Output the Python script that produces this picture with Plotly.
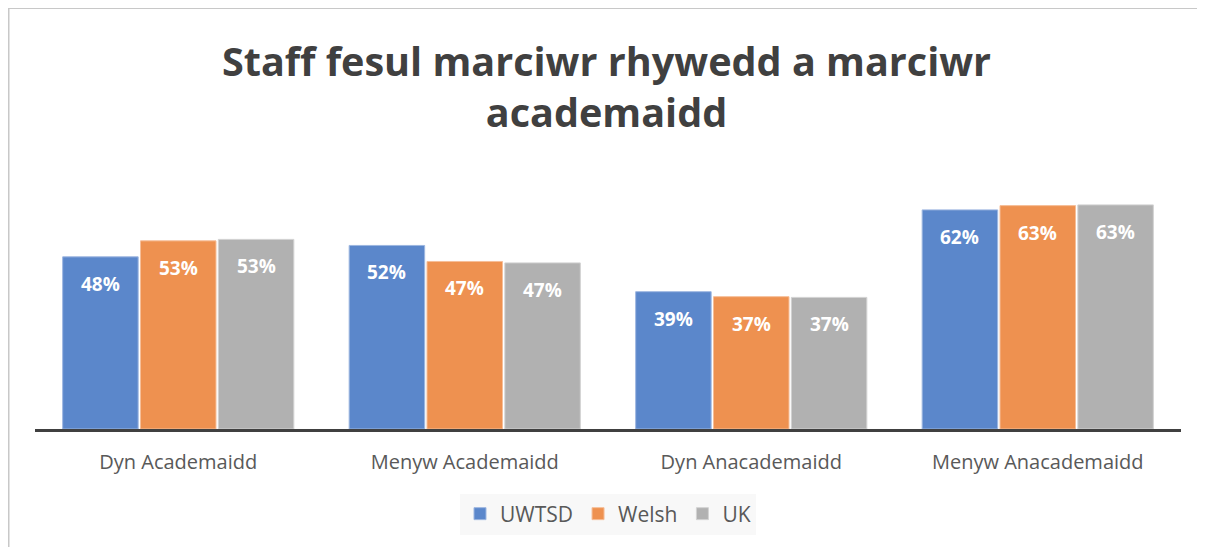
import plotly.graph_objects as go

categories = ["Dyn Academaidd", "Menyw Academaidd", "Dyn Anacademaidd", "Menyw Anacademaidd"]
series_names = ["UWTSD", "Welsh", "UK"]
uwtsd = [48.4, 51.6, 38.6, 61.6]
welsh = [52.9, 47.1, 37.2, 62.8]
uk = [53.3, 46.7, 37.0, 63.0]
colors = ["#5B87CB", "#EE9150", "#B1B1B1"]
line_colors = ["#9DB6E0", "#F6BE98", "#D2D2D2"]

series_values = [uwtsd, welsh, uk]

# page has an 8px body margin; figure sized so it fills the window
OFF = 8
W, H = 1205 - OFF, 547 - OFF
L, T = 35 - OFF, 180 - OFF
R = W - (1181 - OFF)
B = H - (429 - OFF)
pw, ph = W - L - R, H - T - B

fig = go.Figure()
for name, vals, c, lc in zip(series_names, series_values, colors, line_colors):
    fig.add_trace(go.Bar(
        x=categories, y=vals, name=name,
        marker=dict(color=c, line=dict(color=lc, width=1)),
        hoverinfo="x+y+name",
    ))

annotations = []
slot = pw / len(categories) * (1 - 0.185) / 3
for i, vals in enumerate(series_values):
    for cat, v in zip(categories, vals):
        annotations.append(dict(
            x=cat, y=v, xref="x", yref="y",
            text=f"<b>{round(v)}%</b>", showarrow=False,
            xshift=(i - 1) * slot, yshift=-27,
            font=dict(family="Open Sans, sans-serif", size=19, color="white"),
        ))

fig.update_layout(
    width=W, height=H,
    margin=dict(l=L, r=R, t=T, b=B, autoexpand=False),
    paper_bgcolor="white", plot_bgcolor="white",
    barmode="group", bargap=0.185, bargroupgap=0.03,
    title=dict(
        text="<b>Staff fesul marciwr rhywedd a marciwr<br>academaidd</b>",
        x=0.5, xanchor="center", y=1 - (76 - OFF) / H, yanchor="middle",
        font=dict(family="Open Sans, sans-serif", size=39.6, color="#404040"),
    ),
    xaxis=dict(
        showline=True, linecolor="#404040", linewidth=2.5,
        showgrid=False, ticks="", ticklabelstandoff=13,
        tickfont=dict(family="Open Sans, sans-serif", size=20, color="#595959"),
    ),
    yaxis=dict(range=[0, 70], visible=False, showgrid=False, zeroline=False),
    legend=dict(
        orientation="h", x=0.5, xanchor="center", y=-(514 - 429) / ph,
        yanchor="middle", bgcolor="#F8F8F8",
        font=dict(family="Open Sans, sans-serif", size=21, color="#595959"),
        itemwidth=30, traceorder="normal",
    ),
    annotations=annotations,
    shapes=[dict(
        type="rect", xref="paper", yref="paper",
        x0=(0.5 - L) / pw, x1=(W + 20 - L) / pw,
        y0=-(H + 20 - (H - B)) / ph, y1=((H - B) + 0) / ph,
        line=dict(color="#C8C8C8", width=2), fillcolor="rgba(0,0,0,0)",
        layer="below",
    )],
    showlegend=True,
)

fig.write_html("out.html")
